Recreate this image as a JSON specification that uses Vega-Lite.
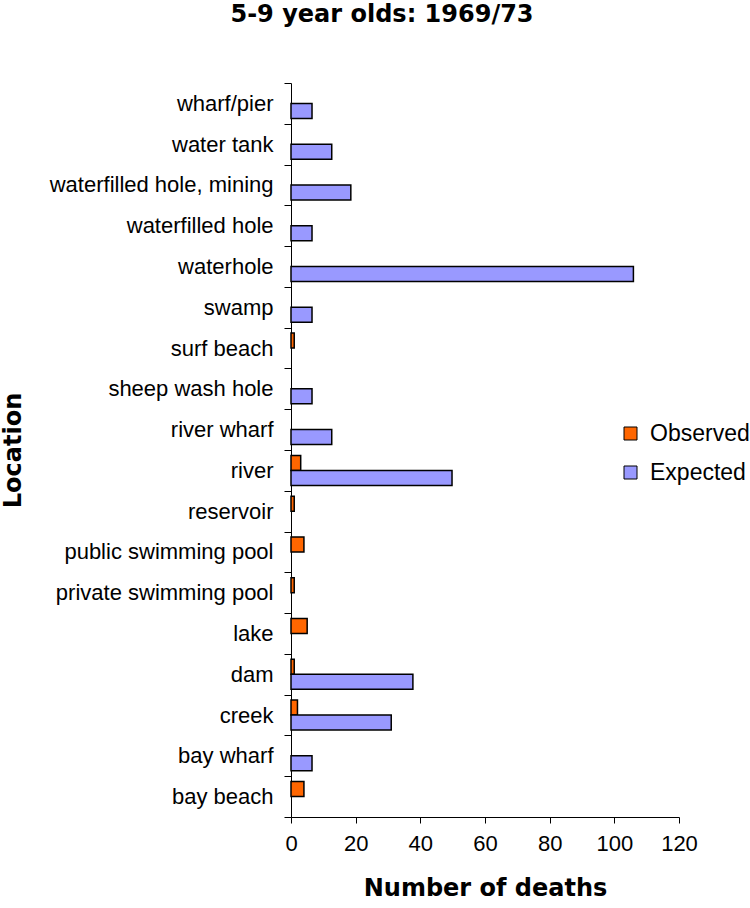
{
  "$schema": "https://vega.github.io/schema/vega-lite/v6.json",
  "autosize": {"type": "none"},
  "padding": {"left": 291, "top": 83, "right": 71, "bottom": 91},
  "width": 388,
  "height": 734,
  "background": "white",
  "title": {
    "text": "5-9 year olds: 1969/73",
    "font": "DejaVu Sans",
    "fontSize": 24,
    "fontWeight": "bold",
    "color": "black",
    "anchor": "middle",
    "dx": -103,
    "offset": 45
  },
  "data": {
    "values": [
      {"location": "wharf/pier", "series": "Expected", "value": 6.5},
      {"location": "water tank", "series": "Expected", "value": 12.6},
      {"location": "waterfilled hole, mining", "series": "Expected", "value": 18.5},
      {"location": "waterfilled hole", "series": "Expected", "value": 6.5},
      {"location": "waterhole", "series": "Expected", "value": 105.9},
      {"location": "swamp", "series": "Expected", "value": 6.5},
      {"location": "surf beach", "series": "Observed", "value": 1},
      {"location": "sheep wash hole", "series": "Expected", "value": 6.5},
      {"location": "river wharf", "series": "Expected", "value": 12.6},
      {"location": "river", "series": "Observed", "value": 3},
      {"location": "river", "series": "Expected", "value": 49.8},
      {"location": "reservoir", "series": "Observed", "value": 1},
      {"location": "public swimming pool", "series": "Observed", "value": 4},
      {"location": "private swimming pool", "series": "Observed", "value": 1},
      {"location": "lake", "series": "Observed", "value": 5},
      {"location": "dam", "series": "Observed", "value": 1},
      {"location": "dam", "series": "Expected", "value": 37.7},
      {"location": "creek", "series": "Observed", "value": 2},
      {"location": "creek", "series": "Expected", "value": 31},
      {"location": "bay wharf", "series": "Expected", "value": 6.5},
      {"location": "bay beach", "series": "Observed", "value": 4}
    ]
  },
  "mark": {"type": "bar", "stroke": "black", "strokeWidth": 1.5},
  "encoding": {
    "y": {
      "field": "location",
      "type": "nominal",
      "sort": ["wharf/pier", "water tank", "waterfilled hole, mining", "waterfilled hole", "waterhole", "swamp", "surf beach", "sheep wash hole", "river wharf", "river", "reservoir", "public swimming pool", "private swimming pool", "lake", "dam", "creek", "bay wharf", "bay beach"],
      "scale": {"paddingInner": 0, "paddingOuter": 0},
      "axis": {
        "title": "Location",
        "titleFont": "DejaVu Sans",
        "titleFontSize": 24,
        "titleFontWeight": "bold",
        "titleColor": "black",
        "titleX": -266,
        "labelFont": "Liberation Sans",
        "labelFontSize": 22,
        "labelColor": "black",
        "labelPadding": 11,
        "labelLimit": 400,
        "tickBand": "extent",
        "tickSize": 7,
        "tickColor": "black",
        "domainColor": "black",
        "grid": false
      }
    },
    "yOffset": {
      "field": "series",
      "type": "nominal",
      "sort": ["Observed", "Expected"],
      "scale": {"paddingInner": 0, "paddingOuter": 0.36}
    },
    "x": {
      "field": "value",
      "type": "quantitative",
      "scale": {"domain": [0, 120], "nice": false},
      "axis": {
        "title": "Number of deaths",
        "titleFont": "DejaVu Sans",
        "titleFontSize": 24,
        "titleFontWeight": "bold",
        "titleColor": "black",
        "titlePadding": 22,
        "values": [0, 20, 40, 60, 80, 100, 120],
        "labelFont": "Liberation Sans",
        "labelFontSize": 22,
        "labelColor": "black",
        "labelPadding": 10,
        "labelFlush": false,
        "tickSize": 6,
        "tickColor": "black",
        "domainColor": "black",
        "grid": false
      }
    },
    "color": {
      "field": "series",
      "type": "nominal",
      "scale": {"domain": ["Observed", "Expected"], "range": ["#FF6600", "#9999FF"]},
      "legend": {
        "title": null,
        "orient": "none",
        "legendX": 328,
        "legendY": 339,
        "symbolType": "square",
        "symbolSize": 169,
        "symbolStrokeColor": "black",
        "symbolStrokeWidth": 1,
        "labelFont": "Liberation Sans",
        "labelFontSize": 23,
        "labelColor": "black",
        "labelLimit": 200,
        "rowPadding": 15,
        "labelOffset": 8
      }
    }
  },
  "config": {"view": {"stroke": null}}
}
